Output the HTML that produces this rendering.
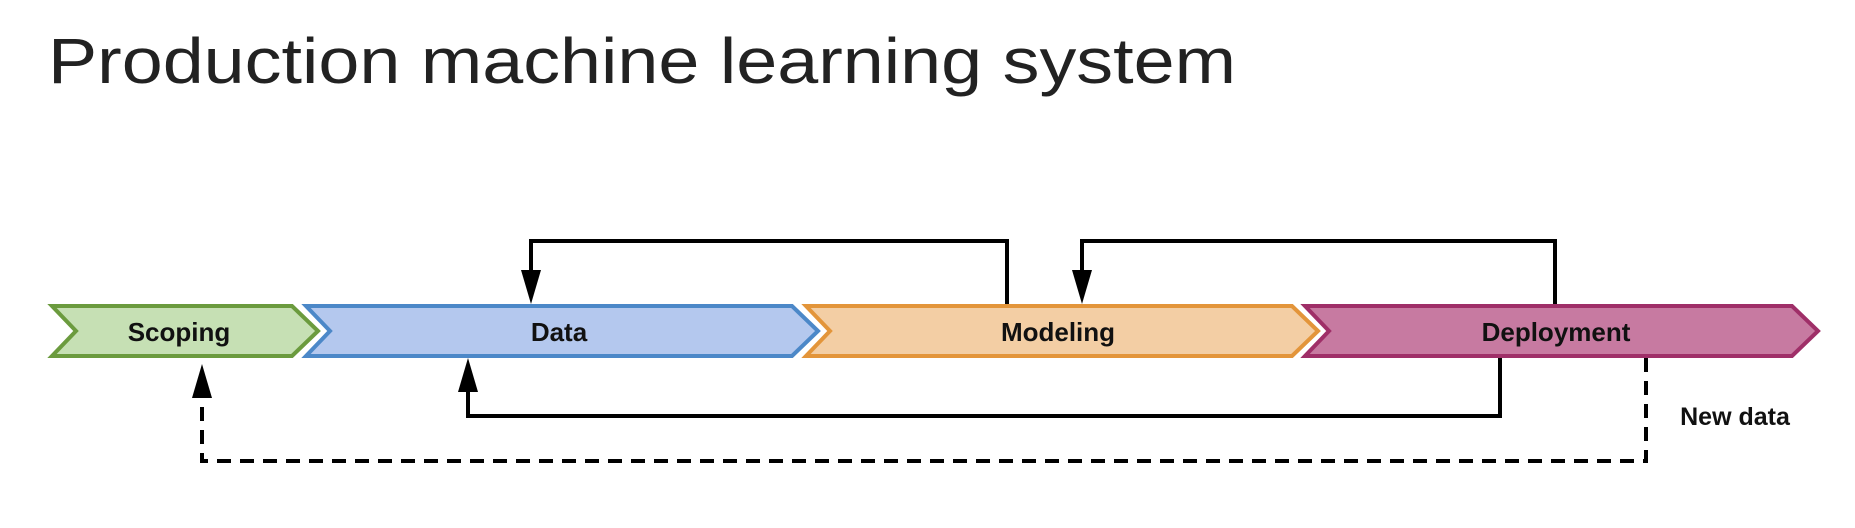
<!DOCTYPE html>
<html><head><meta charset="utf-8"><style>
html,body{margin:0;padding:0;background:#fff;width:1855px;height:528px;overflow:hidden}
</style></head><body>
<svg width="1855" height="528" viewBox="0 0 1855 528" xmlns="http://www.w3.org/2000/svg">
<text x="48" y="83" font-family="Liberation Sans, sans-serif" font-size="64" fill="#222" textLength="1188" lengthAdjust="spacingAndGlyphs">Production machine learning system</text>
<g stroke-width="4" stroke-linejoin="miter">
<polygon points="52,306 292,306 318,331 292,356 52,356 76,331" fill="#c6e0b4" stroke="#6b9b3e"/>
<polygon points="306,306 792,306 818,331 792,356 306,356 330,331" fill="#b4c8ee" stroke="#4c88c8"/>
<polygon points="806,306 1292,306 1318,331 1292,356 806,356 830,331" fill="#f3cea4" stroke="#e3953a"/>
<polygon points="1305,306 1792,306 1818,331 1792,356 1305,356 1329,331" fill="#c77aa1" stroke="#9f2f68"/>
</g>
<g font-family="Liberation Sans, sans-serif" font-weight="bold" font-size="26" fill="#111" text-anchor="middle">
<text x="179" y="341">Scoping</text>
<text x="559" y="341">Data</text>
<text x="1058" y="341">Modeling</text>
<text x="1556" y="341">Deployment</text>
<text x="1735" y="425" font-size="25">New data</text>
</g>
<g fill="none" stroke="#000" stroke-width="4">
<polyline points="1007,304 1007,241 531,241 531,275"/>
<polyline points="1555,304 1555,241 1082,241 1082,275"/>
<polyline points="1500,358 1500,416 468,416 468,388"/>
<polyline points="1646,358 1646,461 202,461 202,395" stroke-dasharray="14,9"/>
</g>
<g fill="#000">
<polygon points="521,270 541,270 531,304"/>
<polygon points="1072,270 1092,270 1082,304"/>
<polygon points="458,392 478,392 468,358"/>
<polygon points="192,398 212,398 202,364"/>
</g>
</svg>
</body></html>
